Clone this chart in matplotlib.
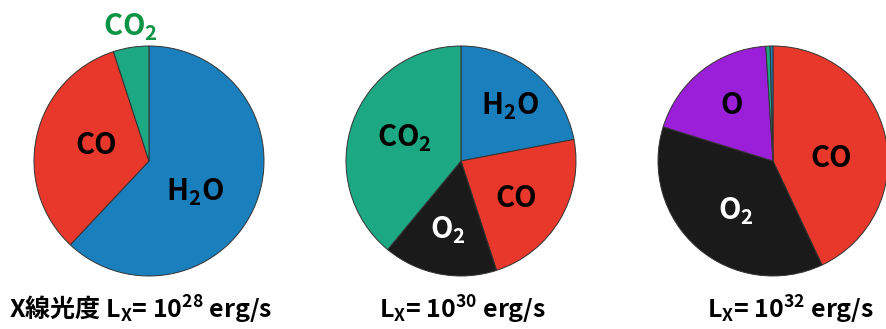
import matplotlib
matplotlib.use("Agg")
import matplotlib.pyplot as plt

# molecular fractions (%), clockwise from 12 o'clock
pie1_names = ["H2O", "CO", "CO2"]
pie1_values = [62.0, 33.0, 5.0]
pie2_names = ["H2O", "CO", "O2", "CO2"]
pie2_values = [22.0, 23.0, 16.0, 39.0]
pie3_names = ["CO", "O2", "O", "CO2", "H2O"]
pie3_values = [43.0, 36.8, 19.2, 0.6, 0.4]

captions = [r"X線光度 L$_X$= 10$^{28}$ erg/s",
            r"L$_X$= 10$^{30}$ erg/s",
            r"L$_X$= 10$^{32}$ erg/s"]

colors = {"H2O": "#1a80bd", "CO": "#e8372b", "CO2": "#1ba883",
          "O2": "#1a1a1a", "O": "#9b1fd8"}
tex = {"H2O": r"H$_2$O", "CO": "CO", "CO2": r"CO$_2$",
       "O2": r"O$_2$", "O": "O"}

plt.rcParams["font.family"] = ["Noto Sans CJK JP", "DejaVu Sans"]
plt.rcParams["font.weight"] = "bold"
plt.rcParams["mathtext.fontset"] = "custom"
plt.rcParams["mathtext.rm"] = "Noto Sans CJK JP:bold"
plt.rcParams["mathtext.it"] = "Noto Sans CJK JP:bold"
plt.rcParams["mathtext.bf"] = "Noto Sans CJK JP:bold"

W, H = 887, 329
fig = plt.figure(figsize=(W / 100, H / 100), dpi=100, facecolor="white")

R = 115  # pie radius in px
centers = [(149, 161), (461, 161), (773, 161)]

# label spots inside each pie, in units of the radius
label_pos = [
    {"H2O": (0.40, -0.27), "CO": (-0.46, 0.14), "CO2": (-0.16, 1.16)},
    {"H2O": (0.43, 0.47), "CO": (0.48, -0.32), "O2": (-0.11, -0.60),
     "CO2": (-0.49, 0.20)},
    {"CO": (0.51, 0.03), "O2": (-0.32, -0.44), "O": (-0.36, 0.49)},
]

data = [(pie1_names, pie1_values), (pie2_names, pie2_values),
        (pie3_names, pie3_values)]

for i, ((names, vals), (cx, cy)) in enumerate(zip(data, centers)):
    ax = fig.add_axes([(cx - R) / W, (H - cy - R) / H, 2 * R / W, 2 * R / H])
    ax.pie(vals, colors=[colors[n] for n in names], startangle=90,
           counterclock=False, radius=1.0,
           wedgeprops=dict(edgecolor="#333333", linewidth=0.7))
    ax.set_xlim(-1, 1)
    ax.set_ylim(-1, 1)
    ax.set_aspect("equal")
    ax.axis("off")
    for n, (x, y) in label_pos[i].items():
        col = "white" if n == "O2" else "black"
        if i == 0 and n == "CO2":
            col = "#0b9444"
        ax.text(x, y, tex[n], ha="center", va="center", color=col,
                fontsize=21, fontweight="bold", clip_on=False)

cap_x = [141, 463, 791]
for x, c in zip(cap_x, captions):
    fig.text(x / W, 1 - 310 / H, c, ha="center", va="center",
             fontsize=18, fontweight="bold", color="black")

fig.savefig("out.png", dpi=100, facecolor="white")
